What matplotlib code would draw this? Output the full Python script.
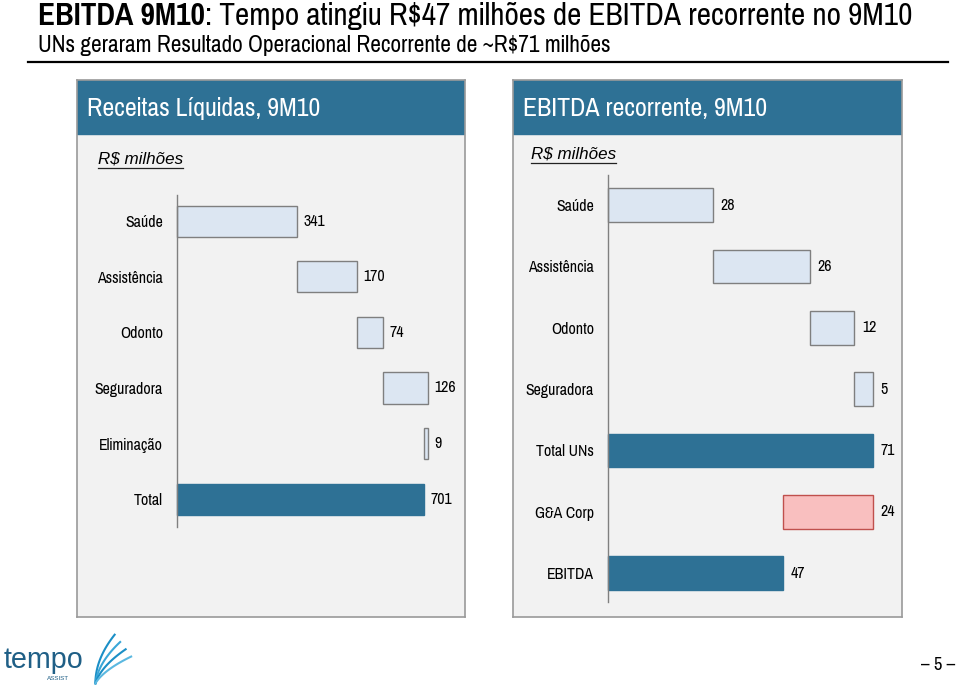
import matplotlib.pyplot as plt
import numpy as np
from matplotlib import font_manager

# data
rev_labels = ['Saúde', 'Assistência', 'Odonto', 'Seguradora', 'Eliminação', 'Total']
rev_values = [341, 170, 74, 126, -9, 701]
rev_is_total = [False, False, False, False, False, True]

ebitda_labels = ['Saúde', 'Assistência', 'Odonto', 'Seguradora', 'Total UNs', 'G&A Corp', 'EBITDA']
ebitda_values = [28, 26, 12, 5, 71, -24, 47]
ebitda_is_total = [False, False, False, False, True, False, True]

names = {f.name for f in font_manager.fontManager.ttflist}
NARROW = 'Liberation Sans'
for cand in ['Liberation Sans Narrow', 'Arial Narrow', 'Pragati Narrow', 'Archivo Narrow',
             'Roboto Condensed', 'PT Sans Narrow']:
    if cand in names:
        NARROW = cand
        break
plt.rcParams['font.family'] = [NARROW, 'DejaVu Sans']

DARK = '#2e7195'
LIGHT = '#dce6f2'
PINK = '#f9bfbf'
W, H = 959, 689

fig = plt.figure(figsize=(W / 100, H / 100), dpi=100)


def px_axes(x0, y0, x1, y1, **kw):
    return fig.add_axes([x0 / W, 1 - y1 / H, (x1 - x0) / W, (y1 - y0) / H], **kw)


def width_of(t):
    return t.get_window_extent(renderer=fig.canvas.get_renderer()).width


def fit(t, target):
    t.set_fontsize(t.get_fontsize() * target / width_of(t))


# titles: bold and regular parts share one size, whole line fitted to the reference width
t1 = fig.text(38 / W, 1 - 16 / H, 'EBITDA 9M10', fontsize=20, fontweight='bold',
              va='center', ha='left')
t2 = fig.text(163 / W, 1 - 16 / H, ': Tempo atingiu R$47 milhões de EBITDA recorrente no 9M10',
              fontsize=20, va='center', ha='left')
k = 875 / (width_of(t1) + width_of(t2))
t1.set_fontsize(20 * k)
t2.set_fontsize(20 * k)
t2.set_x((38 + width_of(t1)) / W)
t3 = fig.text(38 / W, 1 - 45 / H, 'UNs geraram Resultado Operacional Recorrente de ~R$71 milhões',
              fontsize=14, va='center', ha='left')
fit(t3, 577)
fig.add_artist(plt.Line2D([28 / W, 948 / W], [1 - 62 / H, 1 - 62 / H], color='black', lw=1.6))


def panel(x0, x1, title, tw):
    bg = px_axes(x0, 80, x1, 617)
    bg.set_xlim(0, 1)
    bg.set_ylim(0, 1)
    bg.set_facecolor('#f2f2f2')
    for s in bg.spines.values():
        s.set_color('#9a9a9a')
        s.set_linewidth(1.2)
    bg.set_xticks([])
    bg.set_yticks([])
    hdr = 54 / 537
    bg.axhspan(1 - hdr, 1, color=DARK, zorder=1)
    t = bg.text(10 / (x1 - x0), 1 - hdr / 2 - 0.002, title, color='white', fontsize=19,
                va='center', ha='left', zorder=2)
    fit(t, tw)


panel(77, 465, 'Receitas Líquidas, 9M10', 234)
panel(513, 902, 'EBITDA recorrente, 9M10', 245)

for x0, y0 in [(98, 159), (531, 154)]:
    t = fig.text(x0 / W, 1 - y0 / H, 'R$ milhões', fontsize=13, fontstyle='italic',
                 fontfamily='Liberation Sans', va='center', ha='left')
    fit(t, 85)
    fig.add_artist(plt.Line2D([x0 / W, (x0 + 85) / W], [1 - (y0 + 9) / H] * 2, color='#222222', lw=0.9))

probe = fig.text(0, 0, 'Assistência', fontsize=11)
fit(probe, 66)
LBL = probe.get_fontsize()
probe.remove()


def waterfall(ax, labels, values, is_total, xmax, ylim, height, gap):
    run = 0
    n = len(labels)
    for i, (v, tot) in enumerate(zip(values, is_total)):
        if tot:
            left, width = 0, v
            fc, ec = DARK, DARK
            run = v
        elif v >= 0:
            left, width = run, v
            fc, ec = LIGHT, '#7f7f7f'
            run += v
        else:
            left, width = run + v, -v
            fc, ec = (PINK, '#c0504d') if is_total[i - 1] else (LIGHT, '#7f7f7f')
            run += v
        ax.barh(i, width, left=left, height=height, color=fc, edgecolor=ec, linewidth=1.0,
                clip_on=False)
        ax.text(left + width + gap, i, f'{abs(v)}', va='center', ha='left', fontsize=LBL)
    ax.set_xlim(0, xmax)
    ax.set_ylim(*ylim)
    ax.set_yticks(range(n))
    ax.set_yticklabels(labels, fontsize=LBL)
    ax.tick_params(axis='y', length=0, pad=10)
    ax.set_xticks([])
    ax.patch.set_visible(False)
    for s in ['top', 'right', 'bottom']:
        ax.spines[s].set_visible(False)
    ax.spines['left'].set_color('#808080')
    ax.spines['left'].set_linewidth(1.0)


ax1 = px_axes(177, 195, 424, 527)
waterfall(ax1, rev_labels, rev_values, rev_is_total, 701, (5.5, -0.47), 0.56, 19)

ax2 = px_axes(608, 175, 873, 602)
waterfall(ax2, ebitda_labels, ebitda_values, ebitda_is_total, 71, (6.47, -0.49), 0.55, 2.0)

# footer logo and page number
tl = fig.text(4 / W, 1 - 660 / H, 'tempo', fontsize=21, color='#1f5f86', va='center', ha='left',
              fontfamily='Liberation Sans')
fit(tl, 80)
fig.text(47 / W, 1 - 679 / H, 'ASSIST', fontsize=4.5, color='#1f5f86', va='center', ha='left',
         fontfamily='Liberation Sans')
logo = px_axes(80, 632, 135, 686)
logo.set_xlim(0, 1)
logo.set_ylim(0, 1)
logo.axis('off')
t = np.linspace(0, 1, 30)
for j, c in enumerate(['#1b8fc6', '#3aa7d8', '#1b8fc6', '#5bb8e0']):
    logo.plot(0.28 + 0.1 * j * t + 0.35 * t ** 2, 0.05 + 0.9 * t * (1 - 0.15 * j), color=c, lw=1.5)
pg = fig.text(938 / W, 1 - 665 / H, '– 5 –', fontsize=10, va='center', ha='center')
fit(pg, 34)

fig.savefig('out.png', dpi=100)
